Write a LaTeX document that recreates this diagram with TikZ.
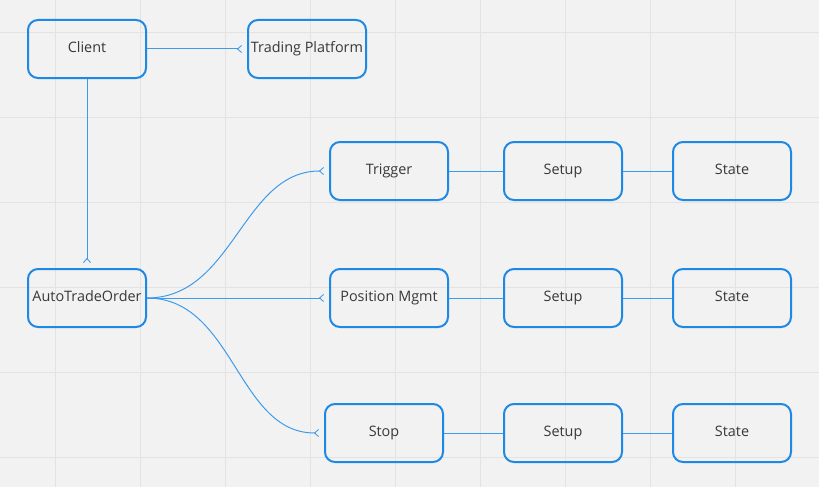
\documentclass[tikz,border=0pt]{standalone}
\usepackage{fontspec}
\setmainfont{Open Sans}
\usepackage{xcolor}
\usepackage{tikz}
\usetikzlibrary{arrows.meta}

\definecolor{boxblue}{HTML}{1E88E5}
\definecolor{linkblue}{HTML}{3D9BEC}
\definecolor{paper}{HTML}{F2F2F2}
\definecolor{gridgray}{HTML}{E3E3E3}
\definecolor{txtgray}{HTML}{383838}

\begin{document}
\begin{tikzpicture}[
	x=1pt, y=-1pt,
	block/.style={font=\fontsize{14.4}{16}\selectfont, text=txtgray, draw=boxblue, line width=2pt, rounded corners=10pt, minimum width=118, minimum height=58, inner sep=0, text height=10.5pt, text depth=3.5pt, align=center},
	link/.style={draw=linkblue, line width=1pt},
	tip/.style={-{Straight Barb[reversed, length=4pt, width=7pt, line width=0.9pt]}, shorten >=5pt},
	gridline/.style={draw=gridgray, line width=0.8pt}
]
\fill[paper] (0,0) rectangle (819,487);
\useasboundingbox (0,0) rectangle (819,487);
\foreach \gx in {55,140,...,735} \draw[gridline] (\gx,0) -- (\gx,487);
\foreach \gy in {32,117,...,457} \draw[gridline] (0,\gy) -- (819,\gy);

\node[block] (client) at (87,49) {Client};
\node[block] (platform) at (307,49) {Trading Platform};
\node[block] (ato) at (87,298) {AutoTradeOrder};

\node[block] (trigger) at (389,171) {Trigger};
\node[block] (setup1) at (563,171) {Setup};
\node[block] (state1) at (732,171) {State};

\node[block] (posmgmt) at (389,298) {Position Mgmt};
\node[block] (setup2) at (563,298) {Setup};
\node[block] (state2) at (732,298) {State};

\node[block] (stop) at (384,433) {Stop};
\node[block] (setup3) at (563,433) {Setup};
\node[block] (state3) at (732,433) {State};

\draw[link, tip] (client) -- (platform);
\draw[link, tip] (client) -- (ato);

\draw[link, tip] (ato.east) to[out=0, in=180] (trigger.west);
\draw[link, tip] (ato.east) -- (posmgmt.west);
\draw[link, tip] (ato.east) to[out=0, in=180] (stop.west);

\draw[link] (trigger) -- (setup1);
\draw[link] (setup1) -- (state1);
\draw[link] (posmgmt) -- (setup2);
\draw[link] (setup2) -- (state2);
\draw[link] (stop) -- (setup3);
\draw[link] (setup3) -- (state3);
\end{tikzpicture}
\end{document}
